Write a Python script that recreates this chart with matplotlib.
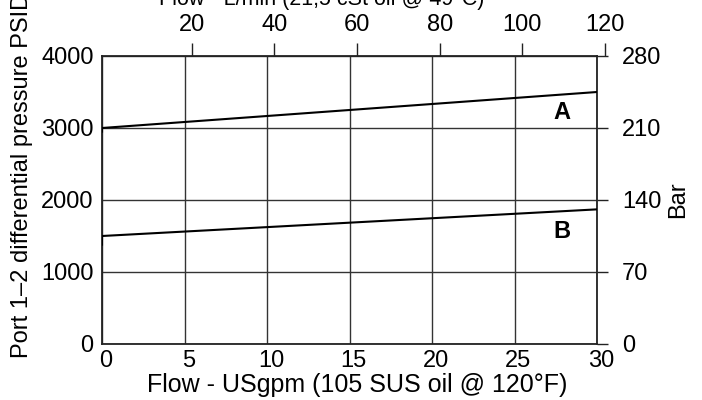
import matplotlib.pyplot as plt
import matplotlib.transforms as mtransforms

plt.rcParams['font.family'] = ['Liberation Sans', 'DejaVu Sans']

# Curve data (flow in USgpm, pressure in PSID)
flow_a = [0, 0, 30]
psid_a = [2950, 3000, 3500]
flow_b = [0, 0, 30]
psid_b = [1380, 1500, 1870]

# Axis ticks
flow_ticks = [0, 5, 10, 15, 20, 25, 30]
psid_ticks = [0, 1000, 2000, 3000, 4000]
bar_ticks = [0, 70, 140, 210, 280]
lpm_ticks = [20, 40, 60, 80, 100, 120]

fs_tick = 17
fs_lab = 18
W, H = 702, 400

fig = plt.figure(figsize=(W / 100, H / 100), dpi=100)
left, right, bottom, top = 102 / W, 597 / W, 1 - 344 / H, 1 - 56 / H
ax = fig.add_axes([left, bottom, right - left, top - bottom])

ax.plot(flow_a, psid_a, color='black', lw=1.5, zorder=3)
ax.plot(flow_b, psid_b, color='black', lw=1.5, zorder=3)

ax.set_xlim(0, 30)
ax.set_ylim(0, 4000)
ax.set_xticks(flow_ticks)
ax.set_yticks(psid_ticks)
ax.grid(True, color='#333333', lw=1.0)
ax.tick_params(axis='both', length=0, labelsize=fs_tick)
ax.tick_params(axis='x', pad=4)
ax.tick_params(axis='y', pad=6)
for sp in ax.spines.values():
    sp.set_color('#222222')
    sp.set_linewidth(1.3)

# nudge the bottom labels a bit to the right like the original
shift = mtransforms.ScaledTranslation(4 / 100, 0, fig.dpi_scale_trans)
for lbl in ax.get_xticklabels():
    lbl.set_transform(lbl.get_transform() + shift)

ax.text(27.9, 3222, 'A', fontsize=fs_tick, fontweight='bold', ha='center', va='center')
ax.text(27.9, 1560, 'B', fontsize=fs_tick, fontweight='bold', ha='center', va='center')

ax.set_xlabel('Flow - USgpm (105 SUS oil @ 120°F)', fontsize=fs_lab)
ax.xaxis.set_label_coords(0.515, -0.1)

# right axis in bar
axr = ax.twinx()
axr.set_ylim(0, 280)
axr.set_yticks(bar_ticks)
axr.tick_params(axis='y', direction='out', length=8, width=1.0, color='#222222',
                labelsize=fs_tick, pad=10)
for sp in axr.spines.values():
    sp.set_visible(False)
axr.set_ylabel('Bar', fontsize=fs_tick, labelpad=4)

# top axis in L/min (slightly offset in the original drawing)
x0 = 109 / W
x120 = 605 / W
axt = fig.add_axes([x0, bottom, x120 - x0, top - bottom])
axt.patch.set_visible(False)
for sp in axt.spines.values():
    sp.set_visible(False)
axt.set_xlim(0, 120)
axt.set_yticks([])
axt.xaxis.tick_top()
axt.set_xticks(lpm_ticks)
axt.tick_params(axis='x', direction='out', length=9.5, width=1.0, color='#222222',
                labelsize=fs_tick, pad=5)

fig.text(322 / W, 1 - 5 / H, 'Flow - L/min (21,5 cSt oil @ 49°C)', fontsize=15.5,
         ha='center', va='baseline')
fig.text(22 / W, 1 - 358 / H, 'Port 1\u20132 differential pressure PSID', fontsize=17,
         rotation=90, ha='center', va='bottom')

fig.savefig('out.png', dpi=100)
